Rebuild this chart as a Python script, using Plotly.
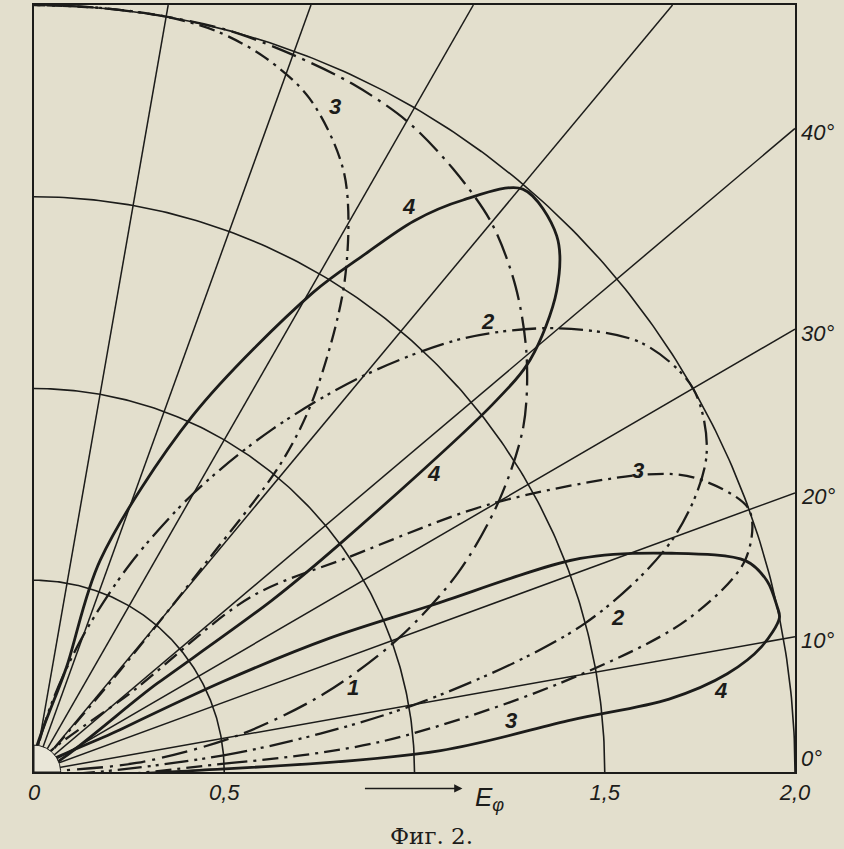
import numpy as np
import plotly.graph_objects as go

# ---------------- data ----------------
GRID_RADII = [0.5, 1.0, 1.5, 2.0]
GRID_ANGLES = [10, 20, 30, 40, 50, 60, 70, 80]
ANGLE_LABEL_VALUES = [0, 10, 20, 30, 40]
ANGLE_LABELS = ["0°", "10°", "20°", "30°", "40°"]
X_TICK_VALUES = [0, 0.5, 1.5, 2.0]
X_TICK_LABELS = ["0", "0,5", "1,5", "2,0"]

CURVE1_ANGLE = [0, 5, 10, 15, 20, 25, 30, 35, 40, 45, 50, 55, 60, 65, 70, 75, 80, 85, 90]
CURVE1_R = [0, 0.27, 0.54, 0.79, 1.02, 1.23, 1.41, 1.57, 1.69, 1.79, 1.87, 1.92,
            1.96, 1.98, 1.99, 2.00, 2.00, 2.00, 2.00]

CURVE2_ANGLE = [0, 5, 10, 15, 20, 25, 30, 35, 40, 45, 50, 55, 60, 65, 70, 75, 80, 85, 90]
CURVE2_R = [0, 0.50, 1.02, 1.50, 1.79, 1.95, 2.00, 1.95, 1.80, 1.60, 1.35, 1.09,
            0.84, 0.60, 0.38, 0.20, 0.08, 0.02, 0]

CURVE3_ANGLE = [0, 2.6, 5, 9.5, 13, 16.5, 20, 23.8, 25.7, 30.2, 34.1, 38.7, 39, 40,
                49.5, 50.4, 51.1, 53, 57.5, 62.4, 67.6, 72, 76, 80, 85, 90]
CURVE3_R = [0, 0.52, 0.92, 1.40, 1.76, 1.95, 2.00, 1.90, 1.79, 1.39, 1.00, 0.73, 0.35, 0,
            0.35, 0.72, 1.03, 1.22, 1.52, 1.76, 1.90, 1.96, 1.99, 2.00, 2.00, 2.00]

CURVE4_ANGLE = [0, 0.9, 3.0, 5.5, 6.5, 8.0, 9.7, 11.6, 12.5, 14.5, 16.4, 18.8, 21.2, 22.6,
                24.2, 25.4, 26, 26, 35.5, 35.6, 36.5, 38.5, 39.5, 42.4, 45.5, 49.8, 52.9,
                55.2, 57.3, 59.6, 65.8, 72.5, 72.6, 73]
CURVE4_R = [0, 0.49, 1.07, 1.42, 1.68, 1.84, 1.94, 2.00, 2.00, 1.99, 1.95, 1.77, 1.54, 1.13,
            0.85, 0.55, 0.25, 0, 0.40, 0.77, 1.00, 1.54, 1.69, 1.86, 1.96, 1.99, 1.87,
            1.75, 1.60, 1.45, 1.02, 0.58, 0.30, 0]

CURVE_LABELS = ["1", "2", "3", "4"]
ORIGIN_PATCH_R = 0.07

# ---------------- styling ----------------
BG = "#e3dfcd"
INK = "#1c1c1a"
SANS = "Liberation Sans, DejaVu Sans, sans-serif"
SERIF = "DejaVu Serif, Liberation Serif, serif"

fig = go.Figure()


def to_xy(angles, radii):
    """Convert polar readings to x/y, splitting lobes at interior zeros."""
    xs, ys = [], []
    n = len(angles)
    for i, (a, r) in enumerate(zip(angles, radii)):
        t = np.radians(a)
        xs.append(r * np.cos(t))
        ys.append(r * np.sin(t))
        if r == 0 and 0 < i < n - 1:
            xs.extend([None, 0.0])
            ys.extend([None, 0.0])
    return xs, ys


# radial grid lines (to the frame)
for a in GRID_ANGLES:
    t = np.radians(a)
    L = min(2 / np.cos(t), 2 / np.sin(t))
    fig.add_trace(go.Scatter(x=[0, L * np.cos(t)], y=[0, L * np.sin(t)], mode="lines",
                             line=dict(color=INK, width=1.5), hoverinfo="skip"))

# circular arcs
th = np.radians(np.linspace(0, 90, 181))
for r in GRID_RADII:
    fig.add_trace(go.Scatter(x=r * np.cos(th), y=r * np.sin(th), mode="lines",
                             line=dict(color=INK, width=1.6), hoverinfo="skip"))

# pattern curves
styles = [
    (CURVE1_ANGLE, CURVE1_R, dict(color=INK, width=2.3, dash="26px,7px,3px,7px")),
    (CURVE2_ANGLE, CURVE2_R, dict(color=INK, width=2.3, dash="24px,6px,3px,5px,3px,6px")),
    (CURVE3_ANGLE, CURVE3_R, dict(color=INK, width=2.3, dash="16px,6px,3px,6px")),
    (CURVE4_ANGLE, CURVE4_R, dict(color=INK, width=2.8)),
]
for (ang, rad, ln), name in zip(styles, CURVE_LABELS):
    x, y = to_xy(ang, rad)
    fig.add_trace(go.Scatter(x=x, y=y, mode="lines", name=name,
                             line=dict(shape="spline", smoothing=0.9, **ln),
                             connectgaps=False, hoverinfo="skip"))

# small quarter disc at the origin
pt = np.radians(np.linspace(0, 90, 30))
fig.add_trace(go.Scatter(x=np.concatenate([[0], ORIGIN_PATCH_R * np.cos(pt), [0]]),
                         y=np.concatenate([[0], ORIGIN_PATCH_R * np.sin(pt), [0]]),
                         mode="lines", fill="toself", fillcolor="#e9e6d8",
                         line=dict(color=INK, width=1), hoverinfo="skip"))

annotations = []
# angle labels on the right edge
for a, txt in zip(ANGLE_LABEL_VALUES, ANGLE_LABELS):
    annotations.append(dict(x=2, y=2 * np.tan(np.radians(a)), xref="x", yref="y",
                            text=f"<i>{txt}</i>", showarrow=False, xanchor="left",
                            yanchor="middle", xshift=4, yshift=14 if a == 0 else -4,
                            font=dict(family=SANS, size=22, color=INK)))

# curve number labels
label_pos = [("3", 0.792, 1.735), ("4", 0.984, 1.475), ("2", 1.192, 1.176),
             ("4", 1.05, 0.778), ("3", 1.587, 0.785), ("2", 1.534, 0.403),
             ("1", 0.839, 0.221), ("3", 1.253, 0.135), ("4", 1.805, 0.213)]
for txt, x, y in label_pos:
    annotations.append(dict(x=x, y=y, xref="x", yref="y", text=f"<i><b>{txt}</b></i>",
                            showarrow=False, font=dict(family=SANS, size=22, color=INK)))

# arrow and E_phi
annotations.append(dict(x=1.126, y=-0.0215, xref="x", yref="paper", ax=-99, ay=0,
                        axref="pixel", ayref="pixel", text="", showarrow=True,
                        arrowhead=2, arrowsize=1.1, arrowwidth=1.5, arrowcolor=INK))
annotations.append(dict(x=1.197, y=-0.011, xref="x", yref="paper", yanchor="top",
                        text="<i>E<sub>φ</sub></i>", showarrow=False,
                        font=dict(family=SANS, size=26, color=INK)))
# caption
annotations.append(dict(x=0.522, y=-0.083, xref="paper", yref="paper", text="Фиг. 2.",
                        showarrow=False, yanchor="middle",
                        font=dict(family=SERIF, size=23, color=INK)))

fig.update_layout(
    width=844, height=849,
    margin=dict(l=34, r=49, t=3, b=77),
    paper_bgcolor=BG, plot_bgcolor=BG,
    showlegend=False,
    annotations=annotations,
    xaxis=dict(range=[0, 2], showgrid=False, zeroline=False, showline=True, mirror=True,
               linecolor=INK, linewidth=2, ticks="", tickvals=X_TICK_VALUES,
               ticktext=[f"<i>{t}</i>" for t in X_TICK_LABELS],
               tickfont=dict(family=SANS, size=22, color=INK)),
    yaxis=dict(range=[0, 2], showgrid=False, zeroline=False, showline=True, mirror=True,
               linecolor=INK, linewidth=2, ticks="", showticklabels=False),
)

fig.write_html(
    "out.html",
    config={"displayModeBar": False},
    post_script="document.body.style.margin='0';document.body.style.background='" + BG + "';",
)
